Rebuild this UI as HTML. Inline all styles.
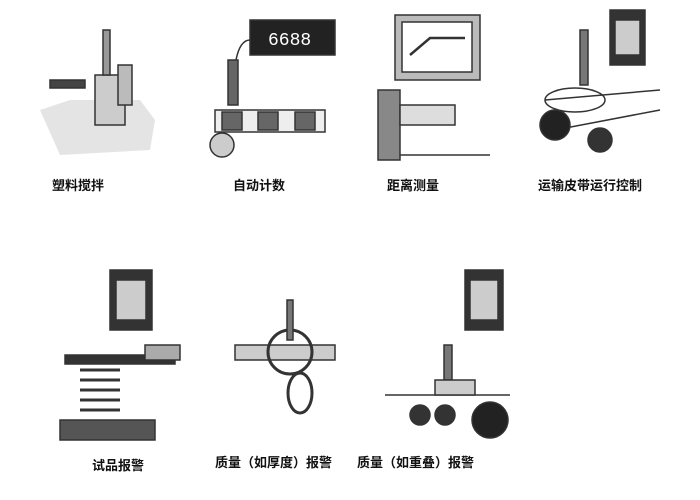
<!DOCTYPE html><html><head><meta charset="utf-8"><style>
body{margin:0;background:#fff;width:700px;height:500px;overflow:hidden;position:relative;font-family:"Liberation Sans","Noto Sans CJK SC",sans-serif}
.l{position:absolute;font-size:13px;font-weight:bold;color:#111;white-space:nowrap}
svg{position:absolute;left:0;top:0}
</style></head><body>
<svg width="700" height="500" viewBox="0 0 700 500">
<g fill="#ddd" stroke="#333" stroke-width="1.5">
<!-- 1 -->
<path d="M40 110 L70 100 L140 100 L155 120 L150 150 L60 155 Z" fill="#e4e4e4" stroke="none"/>
<rect x="95" y="75" width="30" height="50" fill="#ccc"/><rect x="118" y="65" width="14" height="40" fill="#bbb"/>
<rect x="103" y="30" width="7" height="45" fill="#999"/>
<rect x="50" y="80" width="35" height="8" fill="#444"/>
<!-- 2 -->
<rect x="250" y="20" width="85" height="35" fill="#222"/>
<text x="268" y="45" fill="#fff" stroke="none" font-size="18" font-family="Liberation Mono">6688</text>
<path d="M236 60 Q240 40 250 40" fill="none"/>
<rect x="228" y="60" width="10" height="45" fill="#666"/>
<rect x="215" y="110" width="110" height="22" fill="#eee"/>
<rect x="222" y="112" width="20" height="18" fill="#666"/><rect x="258" y="112" width="20" height="18" fill="#666"/><rect x="295" y="112" width="20" height="18" fill="#666"/>
<circle cx="222" cy="145" r="12" fill="#ccc"/>
<!-- 3 -->
<rect x="395" y="15" width="85" height="65" fill="#bbb"/><rect x="402" y="22" width="70" height="50" fill="#fff"/>
<path d="M410 55 L430 38 L465 38" fill="none" stroke-width="2.5"/>
<rect x="378" y="90" width="22" height="70" fill="#888"/>
<rect x="400" y="105" width="55" height="20" fill="#ddd"/>
<line x1="400" y1="155" x2="490" y2="155"/>
<!-- 4 -->
<rect x="610" y="10" width="35" height="55" fill="#333"/><rect x="615" y="20" width="25" height="35" fill="#ccc"/>
<rect x="580" y="30" width="8" height="55" fill="#777"/>
<ellipse cx="575" cy="100" rx="30" ry="12" fill="none"/>
<path d="M545 100 L660 90 M555 130 L660 110" fill="none"/>
<circle cx="555" cy="125" r="15" fill="#222"/><circle cx="600" cy="140" r="12" fill="#333"/>
<!-- 5 -->
<rect x="110" y="270" width="42" height="60" fill="#333"/><rect x="116" y="280" width="30" height="40" fill="#ccc"/>
<rect x="65" y="355" width="110" height="9" fill="#333"/>
<rect x="145" y="345" width="35" height="15" fill="#aaa"/>
<path d="M80 370 h40 M80 380 h40 M80 390 h40 M80 400 h40 M80 410 h40" fill="none" stroke-width="3"/>
<rect x="60" y="420" width="95" height="20" fill="#555"/>
<!-- 6 -->
<rect x="235" y="345" width="100" height="15" fill="#ccc"/>
<circle cx="290" cy="352" r="22" fill="none" stroke-width="3"/>
<rect x="287" y="300" width="6" height="40" fill="#777"/>
<ellipse cx="300" cy="393" rx="12" ry="20" fill="none" stroke-width="3"/>
<!-- 7 -->
<rect x="465" y="270" width="38" height="60" fill="#333"/><rect x="470" y="280" width="28" height="40" fill="#ccc"/>
<rect x="444" y="345" width="8" height="35" fill="#777"/>
<line x1="385" y1="395" x2="510" y2="395"/>
<rect x="435" y="380" width="40" height="15" fill="#ccc"/>
<circle cx="420" cy="415" r="10" fill="#333"/><circle cx="445" cy="415" r="10" fill="#333"/><circle cx="490" cy="420" r="18" fill="#222"/>
</g>
</svg>
<div class="l" style="left:52px;top:175px">塑料搅拌</div>
<div class="l" style="left:233px;top:175px">自动计数</div>
<div class="l" style="left:387px;top:175px">距离测量</div>
<div class="l" style="left:538px;top:175px">运输皮带运行控制</div>
<div class="l" style="left:92px;top:455px">试品报警</div>
<div class="l" style="left:215px;top:452px">质量（如厚度）报警</div>
<div class="l" style="left:357px;top:452px">质量（如重叠）报警</div>
</body></html>
